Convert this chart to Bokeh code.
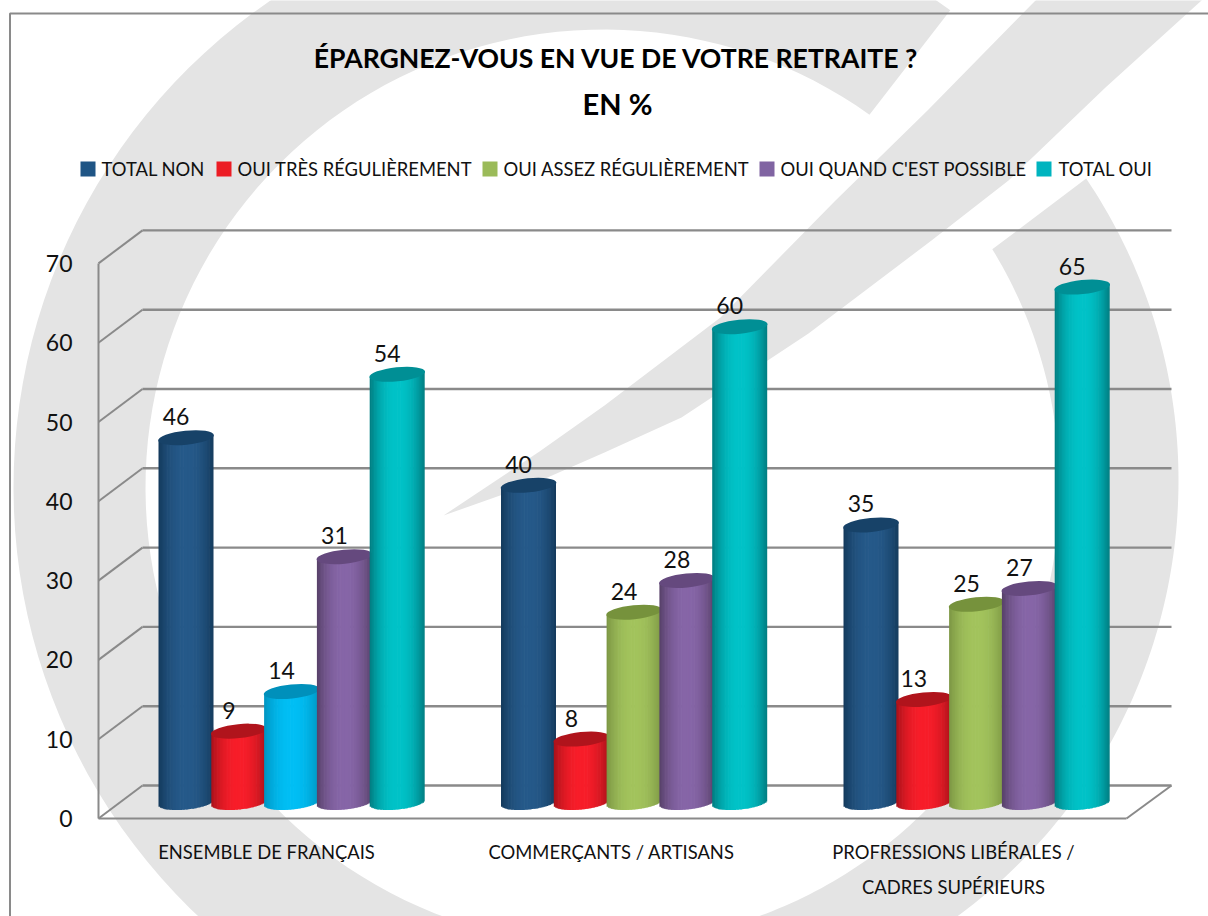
import numpy as np
from bokeh.core.properties import value
from bokeh.embed import file_html
from bokeh.models import FixedTicker, Range1d
from bokeh.plotting import figure
from bokeh.resources import INLINE

# ---- data ----
TITLE_1 = "ÉPARGNEZ-VOUS EN VUE DE VOTRE RETRAITE ?"
TITLE_2 = "EN %"
categories = ["ENSEMBLE DE FRANÇAIS", "COMMERÇANTS / ARTISANS", "PROFRESSIONS LIBÉRALES /"]
category_extra_line = "CADRES SUPÉRIEURS"
series_names = ["TOTAL NON", "OUI TRÈS RÉGULIÈREMENT", "OUI ASSEZ RÉGULIÈREMENT",
                "OUI QUAND C'EST POSSIBLE", "TOTAL OUI"]
total_non = [46, 40, 35]
tres_regulierement = [9, 8, 13]
assez_regulierement = [14, 24, 25]
quand_possible = [31, 28, 27]
total_oui = [54, 60, 65]
y_ticks = [0, 10, 20, 30, 40, 50, 60, 70]

# ---- style: (edge, centre, cap) ----
BLUE = ("#143a5c", "#265a8a", "#174268")
RED = ("#a8121a", "#f81e2a", "#b0141c")
GREEN = ("#7c9644", "#a3c45d", "#76923c")
PURPLE = ("#574068", "#8766a8", "#65497e")
TEAL = ("#007c80", "#00c3c8", "#008f95")
CYAN = ("#0094c0", "#00bff5", "#0090bb")
series_style = [BLUE, RED, GREEN, PURPLE, TEAL]
legend_colors = ["#1f5585", "#ec1c24", "#9bbb59", "#8064a2", "#00b4bf"]
legend_box_x = [80, 216, 482, 759, 1036]
legend_text_x = [101, 237, 503, 780, 1058]
FONT = "Lato"
GRAY = "#8a8a8a"
WM = "#e4e4e4"

W, H = 1208, 916
PX = 7.93            # pixels per percent
Y0 = 818             # page pixel of value 0 on the front axis


def v(py):
    return (Y0 - py) / PX


p = figure(width=W, height=H, output_backend="svg", toolbar_location=None,
           x_range=Range1d(0, W), y_range=Range1d(v(H), v(0)),
           min_border=0, outline_line_color=None, background_fill_color="white",
           border_fill_color="white")
p.grid.visible = False


# ---- watermark ----
def arc(cx, cy, r, a0, a1, n=120):
    a = np.radians(np.linspace(a0, a1, n))
    return cx + r * np.cos(a), cy - r * np.sin(a)


def wm_patch(xs, ys):
    p.patch(xs, [v(y) for y in ys], fill_color=WM, line_color=None)


# left and top of the ring, cut near the top right, down to the bottom
ox, oy = arc(603, 487, 590, 54, 300)
ix, iy = arc(603, 487, 458, 300, 54.5)
wm_patch(np.r_[ox, ix], np.r_[oy, iy])
# right-hand part of the ring
ox, oy = arc(638, 480, 540, 34, -70)
ix, iy = arc(603, 487, 456, -70, 31.5)
wm_patch(np.r_[ox, ix], np.r_[oy, iy])
# diagonal stroke
wm_patch([443, 539, 604, 720, 835, 927, 1035, 1046, 1212, 1201, 1105, 1008, 931, 808, 681, 604, 531],
         [515, 451, 405, 317, 200, 110, 0, -10, -10, 0, 87, 180, 240, 333, 417, 452, 484])

# ---- outer frame lines ----
p.line([9.5, 9.5, W], [v(H), v(13), v(13)], line_color=GRAY, line_width=2)

# ---- walls ----
XF, XB, XR, XRB = 98, 142, 1126, 1171
DEPTH = v(785)
tk = np.array(y_ticks, dtype=float)
p.segment(XB, tk + DEPTH, XRB, tk + DEPTH, line_color=GRAY, line_width=2.4)
p.segment(XF, tk, XB, tk + DEPTH, line_color=GRAY, line_width=2)
p.segment(XR, 0, XRB, DEPTH, line_color=GRAY, line_width=2)

# ---- cylinders ----
rows = [total_non, tres_regulierement, assez_regulierement, quand_possible, total_oui]
BAR_W = 55
STEP = 52.8
FIRST = 185.5
GROUP = 342.5
BASE = v(802)
TILT = 0.1
RX = BAR_W / 2
label_x, label_y, label_t = [], [], []


def hexrgb(c):
    return np.array([int(c[i:i + 2], 16) for i in (1, 3, 5)], dtype=float)


for g in range(len(categories)):
    for s, row in enumerate(rows):
        val = row[g]
        style = series_style[s]
        if s == 2 and g == 0:
            style = CYAN
        cx = FIRST + GROUP * g + STEP * s
        us = np.linspace(-1, 1, 38, endpoint=False) + 1 / 38
        dw = BAR_W / 38
        edge, mid = hexrgb(style[0]), hexrgb(style[1])
        t = np.clip(np.abs(us) ** 2.2, 0, 1)
        cols = ["#%02x%02x%02x" % tuple(int(c) for c in (mid + (edge - mid) * ti)) for ti in t]
        left = cx + us * RX - dw / 2
        right = left + dw + 0.7
        tops = BASE + val + (us * RX * np.tan(TILT)) / PX
        bots = BASE + (us * RX * np.tan(TILT) - np.sqrt(1 - us ** 2) * 7) / PX
        p.quad(left=left, right=np.minimum(right, cx + RX), top=tops, bottom=bots,
               fill_color=cols, line_color=None)
        p.ellipse(x=[cx], y=[BASE + val], width=BAR_W + 1, height=14, angle=TILT,
                  width_units="screen", height_units="screen",
                  fill_color=style[2], line_color=None)
        label_x.append(cx - 10)
        label_y.append(BASE + val + 21 / PX)
        label_t.append(str(val))

p.text(label_x, label_y, text=label_t, text_font=value(FONT), text_font_size="23px",
       text_color="#111111", text_align="center", text_baseline="middle")

# ---- axes ----
p.yaxis.fixed_location = XF
p.yaxis.bounds = (0, 70)
p.yaxis.ticker = FixedTicker(ticks=y_ticks)
p.yaxis.axis_line_color = GRAY
p.yaxis.axis_line_width = 2
p.yaxis.major_tick_line_color = None
p.yaxis.minor_tick_line_color = None
p.yaxis.major_label_standoff = 20
p.yaxis.major_label_text_font = FONT
p.yaxis.major_label_text_font_size = "23px"
p.yaxis.major_label_text_color = "#111111"

xt = [266, 611, 953]
p.xaxis.fixed_location = 0
p.xaxis.bounds = (XF, XR)
p.xaxis.ticker = FixedTicker(ticks=xt)
p.xaxis.major_label_overrides = dict(zip(xt, categories))
p.xaxis.axis_line_color = GRAY
p.xaxis.axis_line_width = 2
p.xaxis.major_tick_line_color = None
p.xaxis.minor_tick_line_color = None
p.xaxis.major_label_standoff = 16
p.xaxis.major_label_text_font = FONT
p.xaxis.major_label_text_font_size = "18.4px"
p.xaxis.major_label_text_color = "#111111"
p.text([xt[2]], [v(886)], text=[category_extra_line], text_font=value(FONT), text_font_size="18.4px",
       text_color="#111111", text_align="center", text_baseline="middle")

# ---- title ----
p.text([616], [v(57)], text=[TITLE_1], text_font=value(FONT), text_font_size="26.6px",
       text_font_style="bold", text_color="#000000", text_align="center", text_baseline="middle")
p.text([617], [v(103)], text=[TITLE_2], text_font=value(FONT), text_font_size="29px",
       text_font_style="bold", text_color="#000000", text_align="center", text_baseline="middle")

# ---- legend ----
for bx, tx, col, name in zip(legend_box_x, legend_text_x, legend_colors, series_names):
    p.quad(left=bx, right=bx + 15, top=v(161), bottom=v(176), fill_color=col, line_color=None)
    p.text([tx], [v(168)], text=[name], text_font=value(FONT), text_font_size="18.4px",
           text_color="#111111", text_align="left", text_baseline="middle")

open("out.html", "w").write(file_html(p, INLINE))
